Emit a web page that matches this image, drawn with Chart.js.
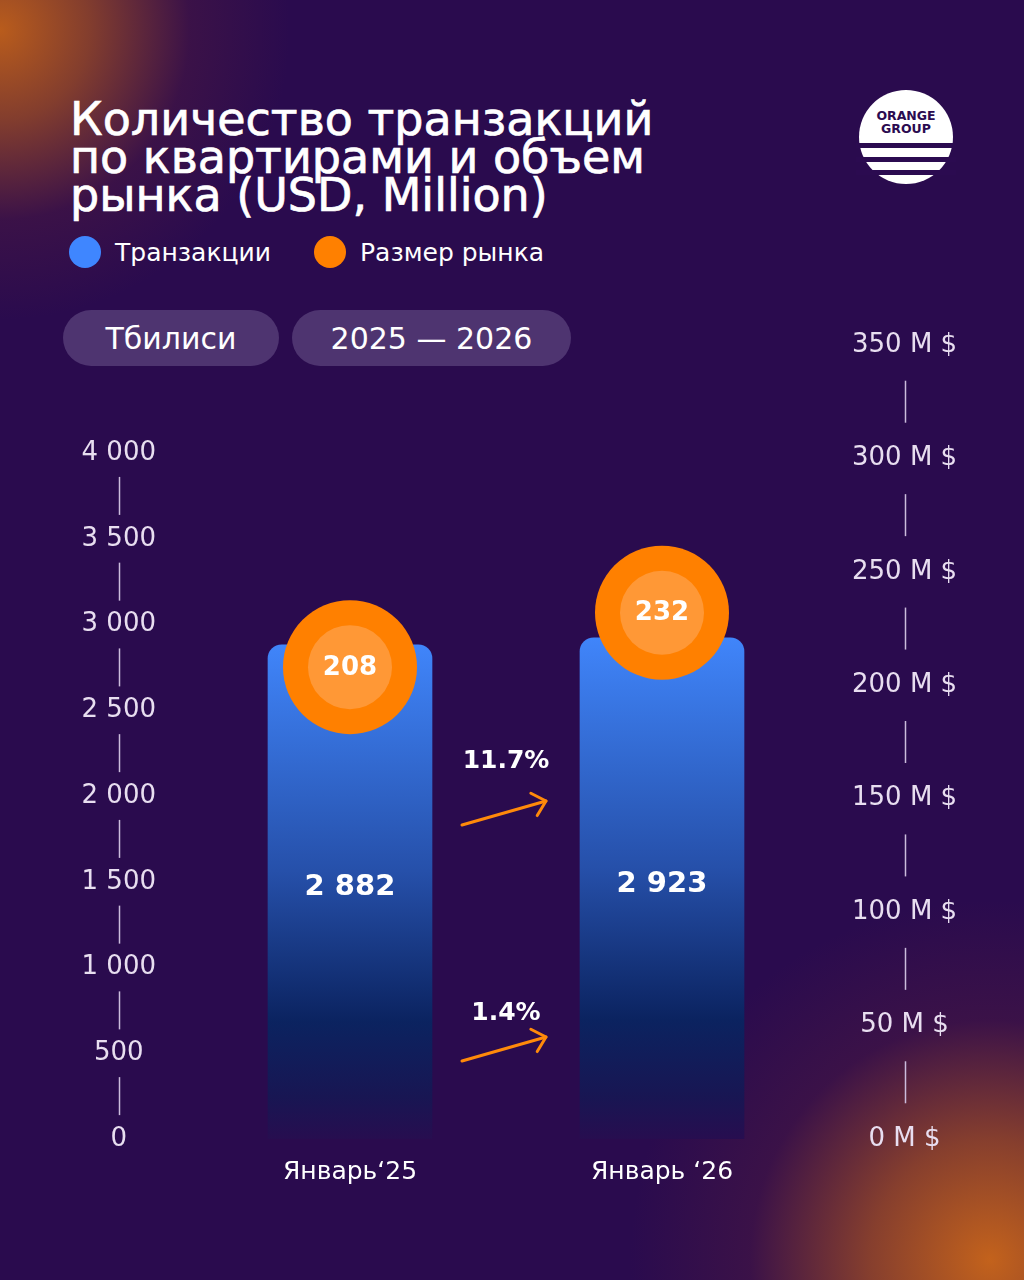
<!DOCTYPE html>
<html><head><meta charset="utf-8">
<script src="https://cdn.jsdelivr.net/npm/chart.js@4.4.1/dist/chart.umd.min.js"></script>
<style>
html,body{margin:0;padding:0;width:1024px;height:1280px;overflow:hidden;}
body{position:relative;background:#2a0b4e;font-family:'DejaVu Sans',sans-serif;color:#fff;}
#bg{position:absolute;left:0;top:0;width:1024px;height:1280px;background:
 radial-gradient(circle at 0px 30px, rgba(185,92,28,1) 0px, rgba(160,78,35,0.75) 90px, rgba(90,30,60,0.35) 190px, rgba(42,11,78,0) 290px),
 radial-gradient(circle at 990px 1260px, rgba(195,98,28,1) 0px, rgba(165,80,35,0.75) 120px, rgba(90,30,60,0.35) 240px, rgba(42,11,78,0) 360px);}
#title{position:absolute;left:70px;top:100px;font-size:46px;line-height:38px;font-weight:normal;-webkit-text-stroke:0.7px #fff;letter-spacing:0px;white-space:nowrap;}
.leg{position:absolute;top:236px;height:32px;display:flex;align-items:center;font-size:25px;white-space:nowrap;}
.dot{width:32px;height:32px;border-radius:50%;margin-right:14px;}
.pill{position:absolute;top:310px;height:56px;border-radius:28px;background:#4e3470;display:flex;align-items:center;justify-content:center;font-size:30px;white-space:nowrap;}
#logo{position:absolute;left:856px;top:86px;}
#wrap{position:absolute;left:0;top:0;width:1024px;height:1280px;}
</style></head>
<body>
<div id="bg"></div>
<div id="title">Количество транзакций<br>по квартирами и объем<br>рынка (USD, Million)</div>
<div class="leg" style="left:69px"><div class="dot" style="background:#3f86ff"></div>Транзакции</div>
<div class="leg" style="left:314px"><div class="dot" style="background:#ff8000"></div>Размер рынка</div>
<div class="pill" style="left:63px;width:216px">Тбилиси</div>
<div class="pill" style="left:292px;width:279px">2025 — 2026</div>
<svg id="logo" width="100" height="102" viewBox="0 0 100 102">
 <circle cx="50" cy="51" r="47" fill="#fff"/>
 <rect x="0" y="57" width="100" height="5" fill="#2b0b50"/>
 <rect x="0" y="71" width="100" height="5" fill="#2b0b50"/>
 <rect x="0" y="84" width="100" height="5" fill="#2b0b50"/>
 <text x="50" y="34" text-anchor="middle" font-family="DejaVu Sans" font-weight="bold" font-size="12.5" fill="#2b0b50">ORANGE</text>
 <text x="50" y="47" text-anchor="middle" font-family="DejaVu Sans" font-weight="bold" font-size="12.5" fill="#2b0b50">GROUP</text>
</svg>
<div id="wrap"><canvas id="c"></canvas></div>
<script>
// ---- data ----
const categories = ['Январь‘25', 'Январь ‘26'];
const transactions = [2882, 2923];
const marketSize = [208, 232];
const transactionLabels = ['2 882', '2 923'];
const marketLabels = ['208', '232'];
const growthLabels = ['11.7%', '1.4%'];
const leftTickValues = [0, 500, 1000, 1500, 2000, 2500, 3000, 3500, 4000];
const leftTickLabels = ['0', '500', '1 000', '1 500', '2 000', '2 500', '3 000', '3 500', '4 000'];
const rightTickValues = [0, 50, 100, 150, 200, 250, 300, 350];
const rightTickLabels = ['0 M $', '50 M $', '100 M $', '150 M $', '200 M $', '250 M $', '300 M $', '350 M $'];

const tickColor = '#e8def0';

function barGradient(ctx) {
  const chart = ctx.chart;
  const area = chart.chartArea;
  if (!area || ctx.raw === undefined) return '#4083f8';
  const top = chart.scales.y.getPixelForValue(ctx.raw);
  const g = chart.ctx.createLinearGradient(0, top, 0, area.bottom + 8);
  g.addColorStop(0, '#4085fa');
  g.addColorStop(0.45, '#2650aa');
  g.addColorStop(0.75, '#0b2360');
  g.addColorStop(0.9, '#181653');
  g.addColorStop(1, '#2a0c4f');
  return g;
}

const labelPlugin = {
  id: 'labels',
  afterDraw(chart) {
    const c = chart.ctx;
    const y = chart.scales.y, y2 = chart.scales.y2, x = chart.scales.x;
    c.save();
    // separators on left axis
    c.strokeStyle = '#cbbcdc';
    c.lineWidth = 1.5;
    const lItems = y.getLabelItems();
    const lx = lItems.length ? lItems[0].options.translation[0] : 117;
    for (let i = 0; i < leftTickValues.length - 1; i++) {
      const m = (y.getPixelForValue(leftTickValues[i]) + y.getPixelForValue(leftTickValues[i + 1])) / 2;
      c.beginPath(); c.moveTo(Math.round(lx) + 0.5, m - 19); c.lineTo(Math.round(lx) + 0.5, m + 19); c.stroke();
    }
    const rItems = y2.getLabelItems();
    const rx = rItems.length ? rItems[0].options.translation[0] : 906;
    for (let i = 0; i < rightTickValues.length - 1; i++) {
      const m = (y2.getPixelForValue(rightTickValues[i]) + y2.getPixelForValue(rightTickValues[i + 1])) / 2;
      c.beginPath(); c.moveTo(Math.round(rx) + 0.5, m - 21); c.lineTo(Math.round(rx) + 0.5, m + 21); c.stroke();
    }
    // bar values
    c.fillStyle = '#ffffff';
    c.textAlign = 'center';
    c.textBaseline = 'middle';
    c.font = 'bold 29px "DejaVu Sans"';
    const barMeta = chart.getDatasetMeta(0);
    barMeta.data.forEach((el, i) => {
      const cp = el.getCenterPoint();
      c.fillText(transactionLabels[i], cp.x, cp.y - 4);
    });
    // circle values
    c.font = 'bold 26px "DejaVu Sans"';
    const cMeta = chart.getDatasetMeta(2);
    cMeta.data.forEach((el, i) => {
      c.fillText(marketLabels[i], el.x, el.y + 1);
    });
    // growth arrows
    const midX = (x.getPixelForValue(0) + x.getPixelForValue(1)) / 2;
    const rows = [
      {label: growthLabels[0], ty: 761, x0: midX - 44, y0: 825, x1: midX + 40, y1: 801},
      {label: growthLabels[1], ty: 1013, x0: midX - 44, y0: 1061, x1: midX + 40, y1: 1037}
    ];
    c.font = 'bold 25px "DejaVu Sans"';
    rows.forEach(r => {
      c.fillStyle = '#ffffff';
      c.fillText(r.label, midX, r.ty);
      c.strokeStyle = '#ff8a0a';
      c.lineWidth = 3;
      c.lineCap = 'round';
      c.lineJoin = 'round';
      const ang = Math.atan2(r.y1 - r.y0, r.x1 - r.x0);
      c.beginPath(); c.moveTo(r.x0, r.y0); c.lineTo(r.x1, r.y1); c.stroke();
      const hl = 17, ha = 0.75;
      c.beginPath();
      c.moveTo(r.x1 - hl * Math.cos(ang - ha), r.y1 - hl * Math.sin(ang - ha));
      c.lineTo(r.x1, r.y1);
      c.lineTo(r.x1 - hl * Math.cos(ang + ha), r.y1 - hl * Math.sin(ang + ha));
      c.stroke();
    });
    c.restore();
  }
};

new Chart(document.getElementById('c'), {
  data: {
    labels: categories,
    datasets: [
      {
        type: 'bar', label: 'Транзакции', data: transactions, yAxisID: 'y',
        backgroundColor: barGradient, barThickness: 164,
        borderRadius: {topLeft: 14, topRight: 14, bottomLeft: 0, bottomRight: 0}, borderSkipped: 'start', order: 3
      },
      {
        type: 'line', label: 'Размер рынка', data: marketSize, yAxisID: 'y2', showLine: false,
        pointRadius: 67, pointHoverRadius: 67, pointBackgroundColor: '#ff8000', pointBorderWidth: 0,
        pointBorderColor: 'rgba(0,0,0,0)', order: 2, clip: false
      },
      {
        type: 'line', label: 'inner', data: marketSize, yAxisID: 'y2', showLine: false,
        pointRadius: 42, pointHoverRadius: 42, pointBackgroundColor: '#ff9836', pointBorderWidth: 0,
        pointBorderColor: 'rgba(0,0,0,0)', order: 1, clip: false
      }
    ]
  },
  options: {
    responsive: true, maintainAspectRatio: false, animation: false, events: [],
    layout: {padding: {top: 345, bottom: 81, left: 0, right: 0}},
    plugins: {legend: {display: false}, tooltip: {enabled: false}},
    scales: {
      x: {
        type: 'category', offset: true,
        grid: {display: false, drawTicks: false}, border: {display: false},
        ticks: {color: '#ffffff', font: {family: 'DejaVu Sans', size: 25}, padding: 18},
        afterFit(s) { s.height = 60; }
      },
      y: {
        position: 'left', min: 0, max: 4630,
        grid: {display: false, drawTicks: false}, border: {display: false},
        afterBuildTicks(s) { s.ticks = leftTickValues.map(v => ({value: v})); },
        ticks: {
          color: tickColor, font: {family: 'DejaVu Sans', size: 26}, crossAlign: 'center', padding: 38,
          callback(v) { const i = leftTickValues.indexOf(v); return i >= 0 ? leftTickLabels[i] : ''; }
        },
        afterFit(s) { s.width = 194; }
      },
      y2: {
        position: 'right', min: 0, max: 350,
        grid: {display: false, drawTicks: false}, border: {display: false},
        afterBuildTicks(s) { s.ticks = rightTickValues.map(v => ({value: v})); },
        ticks: {
          color: tickColor, font: {family: 'DejaVu Sans', size: 26}, crossAlign: 'center', padding: 34,
          callback(v) { const i = rightTickValues.indexOf(v); return i >= 0 ? rightTickLabels[i] : ''; }
        },
        afterFit(s) { s.width = 206; }
      }
    }
  },
  plugins: [labelPlugin]
});
</script>
</body></html>
